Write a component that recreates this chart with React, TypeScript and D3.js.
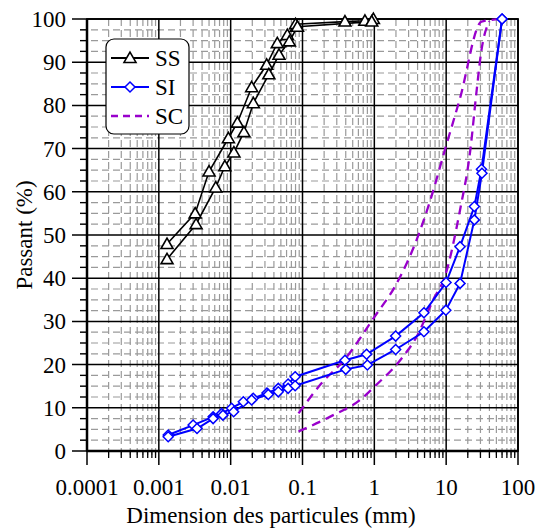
import React, { useEffect, useRef } from 'react';
import * as d3 from 'd3';

// [diameter mm, passing %]
const ssUpper: [number, number][] = [
  [0.0013, 47.9], [0.0032, 55.0], [0.005, 64.7], [0.0093, 72.4], [0.0124, 76.0],
  [0.0196, 84.2], [0.0317, 89.4], [0.0446, 94.4], [0.0615, 96.3], [0.08, 98.8],
  [0.39, 99.4], [0.74, 99.6], [0.97, 100],
];
const ssLower: [number, number][] = [
  [0.0013, 44.4], [0.0033, 52.5], [0.0062, 61.0], [0.0083, 65.9], [0.0111, 69.1],
  [0.0153, 73.8], [0.0207, 80.5], [0.034, 87.2], [0.0471, 91.7], [0.0656, 94.8],
  [0.085, 98.2], [0.92, 99.4],
];
const siUpper: [number, number][] = [
  [0.00135, 3.7], [0.003, 6.0], [0.0057, 7.9], [0.0075, 8.7], [0.0103, 9.9],
  [0.015, 11.4], [0.0206, 12.2], [0.032, 13.4], [0.046, 14.5], [0.063, 15.5],
  [0.079, 17.2], [0.39, 21.0], [0.78, 22.4], [1.98, 26.6], [4.9, 32.0],
  [9.96, 39.0], [15.6, 47.3], [24.7, 56.6], [31, 65.2], [60, 100],
];
const siLower: [number, number][] = [
  [0.00135, 3.3], [0.0034, 5.2], [0.0057, 7.5], [0.0078, 8.3], [0.011, 9.1],
  [0.0196, 11.8], [0.0334, 13.1], [0.046, 13.7], [0.063, 14.5], [0.079, 15.1],
  [0.4, 18.9], [0.8, 19.9], [1.98, 23.5], [4.9, 27.6], [9.9, 32.6],
  [15.6, 38.8], [24.7, 53.5], [31.5, 64.3], [60, 100],
];
const scUpper: [number, number][] = [
  [0.088, 8.7], [0.18, 15.5], [0.4, 21.5], [1, 31], [2, 38.5], [3.8, 48.5],
  [6, 58], [9.6, 69.7], [15.5, 81.5], [31, 99.4], [60, 100],
];
const scLower: [number, number][] = [
  [0.088, 4.5], [0.24, 7.9], [0.63, 11.8], [1.02, 15], [2.5, 21.8], [3.9, 26.5],
  [6.6, 35], [9.6, 40.4], [15.6, 55.8], [21.7, 69.7], [26.3, 82.8], [31, 92.8],
  [40, 99.5],
];

const xTicks = [0.0001, 0.001, 0.01, 0.1, 1, 10, 100];
const xTickLabels = ['0.0001', '0.001', '0.01', '0.1', '1', '10', '100'];
const yTicks = [0, 10, 20, 30, 40, 50, 60, 70, 80, 90, 100];
const legendNames = ['SS', 'SI', 'SC'];

const FONT = "'Liberation Serif', 'Times New Roman', Times, 'DejaVu Serif', serif";

const App = () => {
  const svgRef = useRef<SVGSVGElement>(null);

  useEffect(() => {
    const svg = d3.select(svgRef.current);
    svg.selectAll('*').remove();

    const left = 87, right = 518, top = 19, bottom = 451;

    const x = d3.scaleLog().domain([0.0001, 100]).range([left, right]);
    const y = d3.scaleLinear().domain([0, 100]).range([bottom, top]);

    // minor grid
    const minorX: number[] = [];
    for (let e = -4; e < 2; e++) {
      for (let k = 2; k <= 9; k++) minorX.push(k * Math.pow(10, e));
    }
    const minorY: number[] = d3.range(2.5, 100, 2.5).filter(v => v % 10 !== 0);

    const grid = svg.append('g');
    grid.selectAll('.mx')
      .data(minorX)
      .enter()
      .append('line')
      .attr('x1', d => x(d)).attr('x2', d => x(d))
      .attr('y1', top).attr('y2', bottom + 7)
      .attr('stroke', '#9a9a9a')
      .attr('stroke-width', 1.2)
      .attr('stroke-dasharray', '7,4');
    grid.selectAll('.my')
      .data(minorY)
      .enter()
      .append('line')
      .attr('x1', left - 7).attr('x2', right)
      .attr('y1', d => y(d)).attr('y2', d => y(d))
      .attr('stroke', '#9a9a9a')
      .attr('stroke-width', 1.2)
      .attr('stroke-dasharray', '7,4');

    // minor ticks
    grid.selectAll('.mxt')
      .data(minorX)
      .enter()
      .append('line')
      .attr('x1', d => x(d)).attr('x2', d => x(d))
      .attr('y1', bottom).attr('y2', bottom + 7)
      .attr('stroke', '#000')
      .attr('stroke-width', 1.3);
    grid.selectAll('.myt')
      .data(minorY)
      .enter()
      .append('line')
      .attr('x1', left - 7).attr('x2', left)
      .attr('y1', d => y(d)).attr('y2', d => y(d))
      .attr('stroke', '#000')
      .attr('stroke-width', 1.3);

    // major grid
    grid.selectAll('.Mx')
      .data(xTicks)
      .enter()
      .append('line')
      .attr('x1', d => x(d)).attr('x2', d => x(d))
      .attr('y1', top).attr('y2', bottom + 14)
      .attr('stroke', '#000')
      .attr('stroke-width', 1.5);
    grid.selectAll('.My')
      .data(yTicks)
      .enter()
      .append('line')
      .attr('x1', left - 15).attr('x2', right)
      .attr('y1', d => y(d)).attr('y2', d => y(d))
      .attr('stroke', '#000')
      .attr('stroke-width', 1.5);

    // frame
    svg.append('rect')
      .attr('x', left).attr('y', top)
      .attr('width', right - left).attr('height', bottom - top)
      .attr('fill', 'none')
      .attr('stroke', '#000')
      .attr('stroke-width', 1.8);
    svg.append('line')
      .attr('x1', left).attr('x2', right)
      .attr('y1', bottom).attr('y2', bottom)
      .attr('stroke', '#000').attr('stroke-width', 2.5);
    svg.append('line')
      .attr('x1', left).attr('x2', left)
      .attr('y1', top).attr('y2', bottom)
      .attr('stroke', '#000').attr('stroke-width', 2.5);

    const labels = svg.append('g')
      .attr('font-family', FONT)
      .attr('font-size', 23)
      .attr('fill', '#000');

    // tick labels
    labels.selectAll('.xl')
      .data(xTicks)
      .enter()
      .append('text')
      .attr('x', d => x(d))
      .attr('y', 495)
      .attr('text-anchor', 'middle')
      .text((d, i) => xTickLabels[i]);
    labels.selectAll('.yl')
      .data(yTicks)
      .enter()
      .append('text')
      .attr('x', 66)
      .attr('y', d => y(d) + 8)
      .attr('text-anchor', 'end')
      .text(d => d);

    // axis titles
    labels.append('text')
      .attr('x', 271)
      .attr('y', 523)
      .attr('text-anchor', 'middle')
      .text('Dimension des particules (mm)');
    labels.append('text')
      .attr('transform', `translate(32,${(top + bottom) / 2}) rotate(-90)`)
      .attr('text-anchor', 'middle')
      .text('Passant (%)');

    const line = d3.line<[number, number]>()
      .x(d => x(d[0]))
      .y(d => y(d[1]));
    const smooth = d3.line<[number, number]>()
      .x(d => x(d[0]))
      .y(d => y(d[1]))
      .curve(d3.curveMonotoneX);

    const plot = svg.append('g');
    const triangle = d3.symbol().type(d3.symbolTriangle).size(62);
    const diamond = 'M0,-5L5,0L0,5L-5,0Z';

    // SC dashed curves
    [scUpper, scLower].forEach(s => {
      plot.append('path')
        .datum(s)
        .attr('fill', 'none')
        .attr('stroke', '#9900cc')
        .attr('stroke-width', 2.3)
        .attr('stroke-dasharray', '9,6')
        .attr('d', smooth);
    });

    // SI
    [siUpper, siLower].forEach(s => {
      plot.append('path')
        .datum(s)
        .attr('fill', 'none')
        .attr('stroke', '#0000ff')
        .attr('stroke-width', 2)
        .attr('d', line);
    });
    [siUpper, siLower].forEach(s => {
      plot.append('g').selectAll('path')
        .data(s)
        .enter()
        .append('path')
        .attr('d', diamond)
        .attr('transform', d => `translate(${x(d[0])},${y(d[1])})`)
        .attr('fill', 'white')
        .attr('stroke', '#0000ff')
        .attr('stroke-width', 1.5);
    });

    // SS
    [ssUpper, ssLower].forEach(s => {
      plot.append('path')
        .datum(s)
        .attr('fill', 'none')
        .attr('stroke', '#000')
        .attr('stroke-width', 1.6)
        .attr('d', line);
    });
    [ssUpper, ssLower].forEach(s => {
      plot.append('g').selectAll('path')
        .data(s)
        .enter()
        .append('path')
        .attr('d', triangle)
        .attr('transform', d => `translate(${x(d[0])},${y(d[1]) + 1})`)
        .attr('fill', 'white')
        .attr('stroke', '#000')
        .attr('stroke-width', 1.6);
    });

    // legend
    const lg = svg.append('g');
    lg.append('rect')
      .attr('x', 106).attr('y', 39)
      .attr('width', 83).attr('height', 95)
      .attr('rx', 8)
      .attr('fill', 'white')
      .attr('stroke', '#000')
      .attr('stroke-width', 1.2);
    const ly = [58, 87, 116];
    const colors = ['#000', '#0000ff', '#9900cc'];
    legendNames.forEach((name, i) => {
      lg.append('line')
        .attr('x1', 111).attr('x2', 149)
        .attr('y1', ly[i]).attr('y2', ly[i])
        .attr('stroke', colors[i])
        .attr('stroke-width', i === 2 ? 2.3 : 2)
        .attr('stroke-dasharray', i === 2 ? '7,5' : null);
      if (i === 0) {
        lg.append('path')
          .attr('d', triangle)
          .attr('transform', `translate(130,${ly[i] + 1})`)
          .attr('fill', 'white').attr('stroke', '#000').attr('stroke-width', 1.6);
      } else if (i === 1) {
        lg.append('path')
          .attr('d', diamond)
          .attr('transform', `translate(130,${ly[i]})`)
          .attr('fill', 'white').attr('stroke', '#0000ff').attr('stroke-width', 1.5);
      }
      lg.append('text')
        .attr('x', 155)
        .attr('y', ly[i] + 8)
        .attr('font-family', FONT)
        .attr('font-size', 23)
        .text(name);
    });
  }, []);

  return (
    <svg
      ref={svgRef}
      width={536}
      height={530}
      style={{ position: 'absolute', left: 0, top: 0, background: 'white' }}
    />
  );
};

export default App;
